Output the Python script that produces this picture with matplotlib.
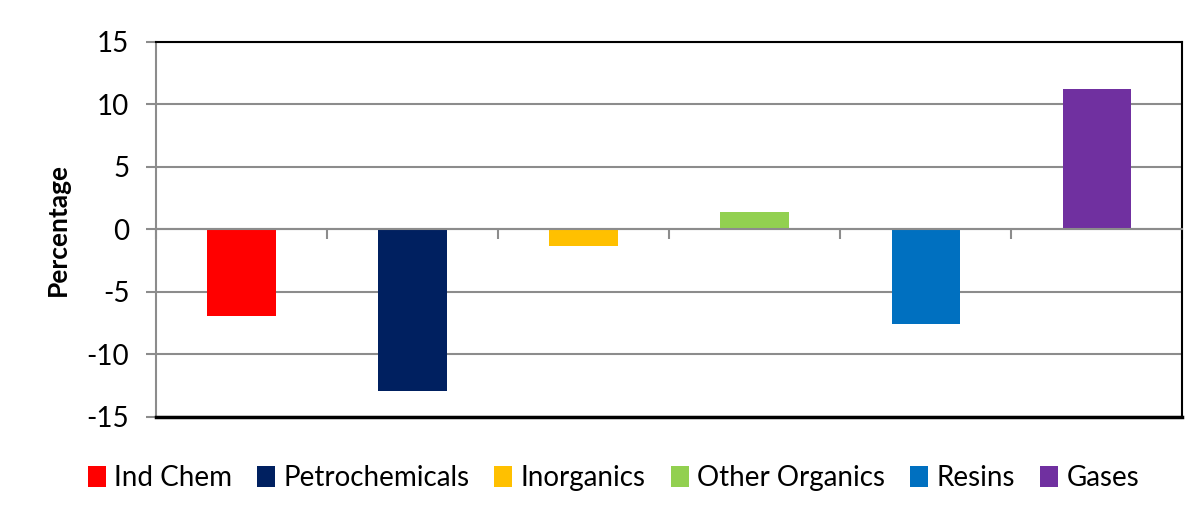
import matplotlib
matplotlib.use("Agg")
import matplotlib.pyplot as plt
from matplotlib.patches import Patch

plt.rcParams['font.family'] = ['Lato', 'DejaVu Sans']

# data
categories = ["Ind Chem", "Petrochemicals", "Inorganics", "Other Organics", "Resins", "Gases"]
values = [-6.9, -12.9, -1.3, 1.4, -7.6, 11.2]
colors = ["#FF0000", "#002060", "#FFC000", "#92D050", "#0070C0", "#7030A0"]
y_ticks = [-15, -10, -5, 0, 5, 10, 15]

fig = plt.figure(figsize=(11.98, 5.14), dpi=100)
ax = fig.add_axes([0.130, 0.189, 0.857, 0.730])

x = list(range(len(categories)))
ax.bar(x, values, width=0.4, color=colors, zorder=3)

ax.set_xlim(-0.5, len(categories) - 0.5)
ax.set_ylim(y_ticks[0], y_ticks[-1])
ax.set_yticks(y_ticks)
ax.set_yticklabels([str(v) for v in y_ticks], fontsize=20)
ax.grid(axis='y', color='#8c8c8c', linewidth=1.5, zorder=0)

# category axis crosses at zero, with tick marks between categories
ax.spines['bottom'].set_position(('data', 0))
ax.spines['bottom'].set_color('#8c8c8c')
ax.spines['bottom'].set_linewidth(1.5)
ax.spines['bottom'].set_zorder(4)
ax.set_xticks([i - 0.5 for i in range(len(categories) + 1)])
ax.set_xticklabels([])
ax.tick_params(axis='x', direction='out', length=7, width=1.5, color='#8c8c8c')
ax.tick_params(axis='y', direction='out', length=7, width=1.5, color='#8c8c8c', pad=12)

ax.spines['left'].set_color('#8c8c8c')
ax.spines['left'].set_linewidth(1.5)
for side in ['top', 'right']:
    ax.spines[side].set_color('black')
    ax.spines[side].set_linewidth(1.5)
ax.axhline(y_ticks[0], color='black', linewidth=2.5, clip_on=False, zorder=5)

ax.set_ylabel("Percentage", fontsize=19, fontweight='bold', labelpad=12)

handles = [Patch(facecolor=c, label=n) for n, c in zip(categories, colors)]
fig.legend(handles=handles, loc='center', bbox_to_anchor=(0.512, 0.07), ncol=6,
           frameon=False, fontsize=20, handlelength=0.65, handleheight=0.8,
           handletextpad=0.3, columnspacing=0.9)

fig.savefig("out.png", dpi=100)
